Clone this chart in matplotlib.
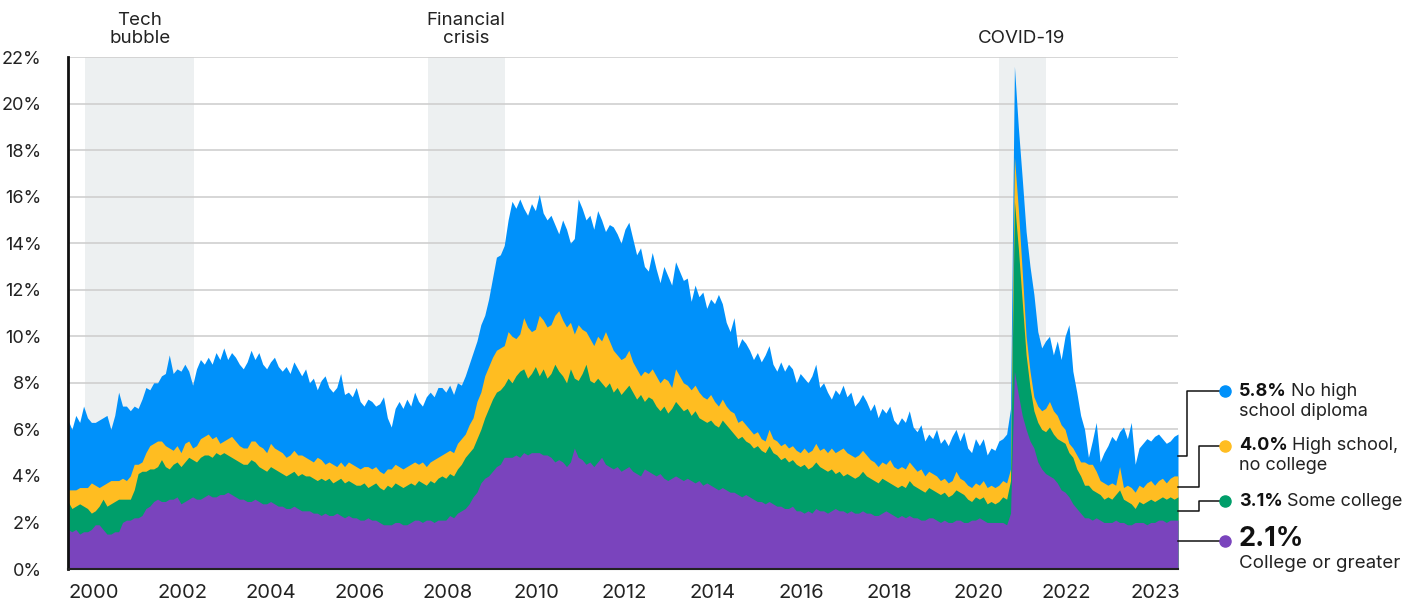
import numpy as np
import matplotlib
matplotlib.use("Agg")
import matplotlib.pyplot as plt
from matplotlib.lines import Line2D

plt.rcParams['font.family'] = ['Inter', 'DejaVu Sans']

# ---------------- data (monthly, Jan 2000 - Oct 2023) ----------------
no_hs = [
    6.4, 6.0, 6.6, 6.3, 7.0, 6.5, 6.3, 6.3, 6.4, 6.5, 6.6, 6.0,
    6.6, 7.6, 7.0, 7.0, 6.8, 7.0, 6.9, 7.3, 7.8, 7.7, 8.0, 8.0,
    8.3, 8.4, 9.2, 8.4, 8.6, 8.5, 8.8, 8.5, 7.9, 8.6, 9.0, 8.8,
    9.1, 8.8, 9.3, 9.0, 9.5, 9.0, 9.3, 9.1, 8.8, 8.6, 8.9, 9.4,
    9.0, 9.3, 8.8, 8.6, 8.9, 9.1, 8.7, 8.5, 8.7, 8.4, 8.9, 8.6,
    8.3, 8.6, 8.0, 8.2, 7.7, 8.1, 8.3, 7.8, 7.6, 7.8, 8.4, 7.5,
    7.6, 7.4, 7.8, 7.2, 7.0, 7.3, 7.2, 7.0, 7.1, 7.4, 6.5, 6.1,
    6.9, 7.2, 6.9, 7.3, 7.0, 7.6, 7.2, 7.0, 7.4, 7.6, 7.4, 7.8,
    7.8, 7.6, 7.9, 7.5, 8.0, 7.9, 8.3, 8.8, 9.3, 9.8, 10.5, 10.9,
    11.6, 12.5, 13.4, 13.5, 13.9, 15.0, 15.8, 15.5, 15.9, 15.5, 15.2, 15.7,
    15.4, 16.1, 15.3, 15.0, 15.2, 14.8, 14.4, 15.0, 14.6, 14.0, 14.2, 15.9,
    15.5, 15.0, 15.2, 14.6, 15.4, 15.0, 14.5, 14.8, 14.7, 14.4, 14.0, 14.6,
    14.9, 14.2, 13.5, 13.8, 13.0, 12.8, 13.6, 12.9, 12.3, 13.0, 12.6, 12.2,
    13.2, 12.8, 12.4, 12.5, 11.5, 12.2, 11.7, 11.9, 11.2, 11.6, 11.4, 11.8,
    11.4, 10.6, 10.2, 10.8, 9.5, 9.9, 9.7, 9.4, 9.0, 9.3, 8.9, 9.2,
    9.6, 8.8, 8.5, 8.9, 8.5, 8.8, 8.6, 8.0, 8.4, 8.2, 8.0, 8.3,
    8.8, 7.8, 8.0, 7.6, 7.3, 7.7, 7.5, 7.9, 7.4, 7.6, 7.0, 7.2,
    7.5, 7.2, 6.8, 7.1, 6.5, 6.9, 6.7, 7.0, 6.4, 6.2, 6.5, 6.3,
    6.8, 6.1, 5.9, 6.2, 5.5, 5.8, 5.6, 6.0, 5.4, 5.6, 5.3, 5.7,
    6.0, 5.5, 5.9, 5.2, 5.0, 5.6, 5.3, 5.6, 4.9, 5.2, 5.1, 5.5,
    5.6, 5.8, 6.9, 21.6, 19.0, 16.8, 14.5, 13.0, 11.8, 10.2, 9.5, 9.8,
    10.0, 9.2, 9.8, 9.0, 10.0, 10.5, 8.5, 7.6, 6.6, 6.0, 4.8, 5.5,
    6.3, 4.6, 5.0, 5.3, 5.7, 5.5, 5.9, 6.1, 5.6, 6.3, 4.5, 5.2,
    5.4, 5.6, 5.5, 5.7, 5.8, 5.6, 5.4, 5.5, 5.7, 5.8,
]
hs = [
    3.4, 3.4, 3.4, 3.5, 3.5, 3.5, 3.7, 3.6, 3.5, 3.6, 3.7, 3.8,
    3.8, 3.8, 3.9, 3.8, 4.0, 4.5, 4.5, 4.6, 5.0, 5.3, 5.4, 5.5,
    5.5, 5.3, 5.2, 5.1, 5.3, 5.0, 5.4, 5.5, 5.2, 5.3, 5.6, 5.7,
    5.8, 5.6, 5.7, 5.4, 5.5, 5.6, 5.7, 5.5, 5.3, 5.2, 5.2, 5.5,
    5.5, 5.3, 5.2, 5.0, 5.4, 5.2, 5.1, 5.0, 4.8, 4.9, 5.1, 4.9,
    4.9, 4.8, 4.7, 4.6, 4.8, 4.7, 4.5, 4.6, 4.5, 4.4, 4.6, 4.4,
    4.6, 4.5, 4.4, 4.3, 4.4, 4.4, 4.3, 4.4, 4.2, 4.1, 4.3, 4.3,
    4.5, 4.4, 4.3, 4.4, 4.5, 4.6, 4.5, 4.6, 4.4, 4.6, 4.7, 4.8,
    4.9, 5.0, 5.1, 5.0, 5.4, 5.6, 5.8, 6.2, 6.5, 7.2, 7.6, 8.3,
    8.7, 9.1, 9.4, 9.5, 9.6, 10.2, 10.0, 9.9, 10.1, 10.8, 10.4, 10.2,
    10.3, 10.9, 10.7, 10.4, 10.5, 10.9, 11.1, 10.7, 10.4, 10.6, 10.1, 10.5,
    10.3, 10.2, 9.9, 9.6, 10.0, 9.8, 10.2, 9.8, 9.4, 9.2, 9.0, 9.1,
    9.4, 8.9, 8.6, 8.3, 8.5, 8.4, 8.6, 8.3, 8.0, 8.2, 8.1, 7.8,
    8.6, 8.3, 8.0, 7.9, 7.7, 7.9, 7.6, 7.4, 7.3, 7.5, 7.2, 7.0,
    7.3, 7.0, 6.8, 6.7, 6.3, 6.4, 6.2, 6.0, 5.8, 5.9, 5.6, 5.5,
    6.0, 5.6, 5.5, 5.3, 5.4, 5.2, 5.3, 5.1, 5.0, 5.2, 5.0, 5.1,
    5.4, 5.1, 5.2, 5.0, 5.2, 5.0, 5.1, 5.2, 5.0, 4.9, 4.8, 4.9,
    5.1, 4.9, 4.7, 4.6, 4.4, 4.6, 4.5, 4.7, 4.4, 4.3, 4.4, 4.3,
    4.6, 4.4, 4.2, 4.3, 4.0, 4.2, 4.1, 4.0, 3.8, 3.9, 3.7, 3.8,
    4.2, 3.9, 3.8, 3.6, 3.5, 3.7, 3.6, 3.8, 3.5, 3.6, 3.5, 3.6,
    3.8, 3.7, 4.3, 17.7, 15.5, 12.8, 10.0, 8.5, 7.4, 7.0, 6.8, 6.9,
    7.2, 6.8, 6.6, 6.2, 6.0, 5.4, 5.2, 4.9, 4.6, 4.6, 4.5, 4.5,
    4.2, 3.8, 3.7, 3.6, 3.7, 3.6, 4.4, 3.5, 3.6, 3.5, 3.3, 3.6,
    3.5, 3.7, 3.8, 3.6, 3.8, 3.9, 3.7, 3.9, 4.0, 4.0,
]
some_college = [
    2.9, 2.6, 2.7, 2.8, 2.7, 2.6, 2.4, 2.5, 2.7, 3.0, 2.7, 2.8,
    2.9, 3.0, 3.0, 3.0, 3.0, 3.4, 4.1, 4.2, 4.2, 4.3, 4.3, 4.4,
    4.7, 4.4, 4.3, 4.5, 4.6, 4.4, 4.6, 4.8, 4.7, 4.6, 4.8, 4.9,
    4.9, 4.8, 5.0, 4.9, 5.0, 4.9, 4.8, 4.7, 4.6, 4.5, 4.5, 4.7,
    4.6, 4.4, 4.3, 4.2, 4.4, 4.3, 4.2, 4.1, 4.0, 4.1, 4.2, 4.0,
    4.1, 4.0, 4.0, 3.9, 3.8, 3.9, 3.8, 3.9, 3.7, 3.8, 3.9, 3.7,
    3.8, 3.7, 3.6, 3.6, 3.7, 3.5, 3.6, 3.7, 3.5, 3.4, 3.6, 3.5,
    3.7, 3.6, 3.5, 3.6, 3.7, 3.6, 3.8, 3.7, 3.6, 3.8, 3.7, 3.9,
    4.0, 3.9, 4.1, 4.0, 4.3, 4.5, 4.8, 5.0, 5.2, 5.6, 6.0, 6.5,
    6.9, 7.3, 7.6, 7.7, 7.9, 8.2, 8.0, 8.3, 8.5, 8.6, 8.2, 8.4,
    8.7, 8.3, 8.6, 8.2, 8.4, 8.8, 8.5, 8.3, 8.0, 8.6, 8.2, 8.1,
    8.4, 8.8, 8.1, 8.0, 8.2, 8.0, 7.8, 8.0, 7.6, 7.8, 7.5, 7.7,
    7.9, 7.6, 7.3, 7.5, 7.2, 7.4, 7.3, 7.0, 6.8, 7.0, 6.7, 6.9,
    7.2, 7.0, 6.8, 6.9, 6.6, 6.8, 6.5, 6.4, 6.3, 6.4, 6.2, 6.1,
    6.4, 6.2, 6.0, 5.8, 5.6, 5.7, 5.5, 5.4, 5.2, 5.3, 5.1, 5.0,
    5.3, 5.0, 4.9, 4.7, 4.8, 4.6, 4.7, 4.5, 4.4, 4.5, 4.3, 4.4,
    4.6, 4.4, 4.3, 4.2, 4.3, 4.1, 4.2, 4.0, 4.1, 4.0, 3.9, 4.0,
    4.2, 4.0, 3.9, 3.8, 3.7, 3.9, 3.8, 3.7, 3.6, 3.5, 3.6, 3.5,
    3.8, 3.6, 3.5, 3.4, 3.3, 3.5, 3.4, 3.3, 3.2, 3.3, 3.1, 3.2,
    3.4, 3.3, 3.2, 3.0, 2.9, 3.1, 3.0, 3.1, 2.8, 2.9, 2.8, 2.9,
    3.1, 3.0, 3.8, 15.8, 13.8, 11.5, 9.2, 7.8, 6.8, 6.3, 6.0, 5.9,
    6.1, 5.8, 5.6, 5.5, 5.4, 5.0, 4.8, 4.3, 4.0, 3.6, 3.6, 3.4,
    3.3, 3.2, 3.0, 3.1, 3.0, 3.2, 3.4, 3.0, 2.9, 2.8, 2.6, 2.9,
    2.8, 2.9, 3.0, 2.9, 3.0, 3.1, 3.0, 3.1, 3.0, 3.1,
]
college = [
    1.7, 1.6, 1.7, 1.5, 1.6, 1.6, 1.7, 1.9, 1.9, 1.7, 1.5, 1.5,
    1.6, 1.6, 2.0, 2.1, 2.1, 2.2, 2.2, 2.3, 2.6, 2.7, 2.9, 3.0,
    2.9, 2.9, 3.0, 3.0, 3.1, 2.8, 2.9, 3.0, 3.1, 3.0, 3.0, 3.1,
    3.2, 3.1, 3.1, 3.2, 3.2, 3.3, 3.2, 3.1, 3.0, 3.0, 2.9, 2.9,
    3.0, 2.9, 2.8, 2.8, 2.9, 2.8, 2.7, 2.7, 2.6, 2.6, 2.7, 2.6,
    2.5, 2.5, 2.5, 2.4, 2.4, 2.3, 2.4, 2.3, 2.3, 2.4, 2.3, 2.2,
    2.3, 2.2, 2.2, 2.1, 2.1, 2.2, 2.1, 2.1, 2.0, 1.9, 1.9, 1.9,
    2.0, 2.0, 1.9, 1.9, 2.0, 2.1, 2.1, 2.0, 2.1, 2.1, 2.0, 2.1,
    2.1, 2.1, 2.3, 2.2, 2.4, 2.5, 2.6, 2.8, 3.1, 3.3, 3.7, 3.9,
    4.0, 4.2, 4.4, 4.5, 4.8, 4.8, 4.8, 4.9, 4.8, 5.0, 4.9, 5.0,
    5.0, 5.0, 4.9, 4.9, 4.8, 4.6, 4.7, 4.6, 4.4, 4.6, 5.2, 4.8,
    4.7, 4.5, 4.6, 4.4, 4.6, 4.8, 4.5, 4.4, 4.3, 4.4, 4.2, 4.3,
    4.4, 4.2, 4.1, 4.0, 4.3, 4.2, 4.1, 4.0, 4.1, 3.9, 3.8, 3.9,
    4.0, 3.9, 3.8, 3.9, 3.8, 3.7, 3.8, 3.6, 3.7, 3.6, 3.5, 3.4,
    3.5, 3.4, 3.3, 3.3, 3.2, 3.1, 3.2, 3.1, 3.0, 2.9, 2.9, 2.8,
    2.9, 2.8, 2.7, 2.7, 2.6, 2.6, 2.7, 2.5, 2.5, 2.4, 2.5, 2.4,
    2.6, 2.5, 2.5, 2.4, 2.5, 2.6, 2.5, 2.5, 2.4, 2.5, 2.4, 2.4,
    2.5, 2.4, 2.4, 2.3, 2.3, 2.4, 2.5, 2.4, 2.3, 2.2, 2.3, 2.2,
    2.3, 2.2, 2.2, 2.1, 2.1, 2.2, 2.2, 2.1, 2.0, 2.1, 2.0, 2.0,
    2.1, 2.1, 2.0, 2.0, 2.1, 2.1, 2.2, 2.1, 2.0, 2.0, 2.0, 2.0,
    2.0, 1.9, 2.4, 8.5, 7.5, 6.6, 6.0, 5.5, 5.2, 4.6, 4.3, 4.1,
    4.0, 3.9, 3.7, 3.4, 3.3, 3.1, 2.8, 2.6, 2.4, 2.2, 2.2, 2.1,
    2.2, 2.1, 2.0, 2.0, 2.0, 2.1, 2.0, 2.0, 1.9, 1.9, 2.0, 2.0,
    2.0, 1.9, 2.0, 2.0, 2.1, 2.1, 2.0, 2.1, 2.1, 2.1,
]

x_labels = ["2000", "2002", "2004", "2006", "2008", "2010", "2012",
            "2014", "2016", "2018", "2020", "2022", "2023"]
y_ticks = [0, 2, 4, 6, 8, 10, 12, 14, 16, 18, 20, 22]

events = ["Tech\nbubble", "Financial\ncrisis", "COVID-19"]
event_spans = [(4.4, 32.3), (92.4, 112.2), (239.0, 251.0)]   # month index

legend_vals = ["5.8%", "4.0%", "3.1%", "2.1%"]
legend_names = ["No high\nschool diploma", "High school,\nno college",
                "Some college", "College or greater"]

BLUE, YELLOW, GREEN, PURPLE = "#0091FA", "#FFBD21", "#009E6A", "#7A44BD"
SHADE = "#EDF0F1"

# ---------------- figure ----------------
W, H = 1403, 602
fig = plt.figure(figsize=(W / 100, H / 100), dpi=100)
L, R, T, B = 68, 1178, 57, 569
ax = fig.add_axes([L / W, 1 - B / H, (R - L) / W, (B - T) / H])

n = len(no_hs)
x = np.arange(n)
pxm = (R - L) / (n - 1)

for (a, b) in event_spans:
    ax.axvspan(a, b, color=SHADE, lw=0, zorder=0)

for series, col in [(no_hs, BLUE), (hs, YELLOW), (some_college, GREEN), (college, PURPLE)]:
    ax.fill_between(x, 0, series, color=col, lw=0, zorder=3)

ax.set_xlim(0, n - 1)
ax.set_ylim(0, 22)
ax.set_yticks(y_ticks)
ax.set_yticklabels([f"{v}%" for v in y_ticks])
ax.yaxis.grid(True, color="#cfcfcf", lw=1.2, zorder=1)
ax.set_axisbelow(False)
for gl in ax.get_ygridlines():
    gl.set_zorder(1)

tick_px = [94 + 88.42 * k for k in range(len(x_labels))]
ax.set_xticks([(p - L) / pxm for p in tick_px])
ax.set_xticklabels(x_labels)
ax.tick_params(axis="both", length=0, colors="#222222")
ax.tick_params(axis="x", labelsize=14.5, pad=11)
ax.tick_params(axis="y", labelsize=13, pad=19)

for s in ["top", "right"]:
    ax.spines[s].set_visible(False)
ax.spines["left"].set_linewidth(2)
ax.spines["left"].set_color("#111111")
ax.spines["left"].set_zorder(5)
ax.spines["bottom"].set_linewidth(1.5)
ax.spines["bottom"].set_color("#222222")
ax.spines["bottom"].set_zorder(5)

# event labels
ev_px = [140, 466, 1022]
for lab, px in zip(events, ev_px):
    fig.text(px / W, 1 - 47 / H, lab, ha="center", va="bottom",
             fontsize=13.5, color="#222222", linespacing=1.05)

# legend connectors (figure pixel coords)
def fline(xs, ys):
    fig.add_artist(Line2D([v / W for v in xs], [1 - v / H for v in ys],
                          transform=fig.transFigure, color="#111111", lw=1.1))

fline([R, 1187, 1187, 1222], [456, 456, 391, 391])
fline([R, 1199, 1199, 1222], [487, 487, 446, 446])
fline([R, 1199, 1199, 1222], [511, 511, 501, 501])
fline([R, 1222], [541, 541])

dot_y = [391, 446, 501, 541]
for yv, col in zip(dot_y, [BLUE, YELLOW, GREEN, PURPLE]):
    fig.add_artist(Line2D([1225 / W], [1 - yv / H], marker="o", markersize=8,
                          color=col, lw=0, transform=fig.transFigure))

fig.canvas.draw()
rend = fig.canvas.get_renderer()
tx = 1239
for i in range(3):
    yv = dot_y[i]
    t = fig.text(tx / W, 1 - yv / H, legend_vals[i], ha="left", va="center",
                 fontsize=13, fontweight="bold", color="#111111")
    bb = t.get_window_extent(rend)
    parts = legend_names[i].split("\n")
    fig.text((bb.x1 + 4) / W, 1 - yv / H, parts[0], ha="left", va="center",
             fontsize=13, color="#222222")
    if len(parts) > 1:
        fig.text(tx / W, 1 - (yv + 20) / H, parts[1], ha="left", va="center",
                 fontsize=13, color="#222222")
fig.text(tx / W, 1 - 539 / H, legend_vals[3], ha="left", va="center",
         fontsize=19.5, fontweight="bold", color="#111111")
fig.text(tx / W, 1 - 564 / H, legend_names[3], ha="left", va="center",
         fontsize=13.5, color="#222222")

fig.savefig("out.png", dpi=100)
